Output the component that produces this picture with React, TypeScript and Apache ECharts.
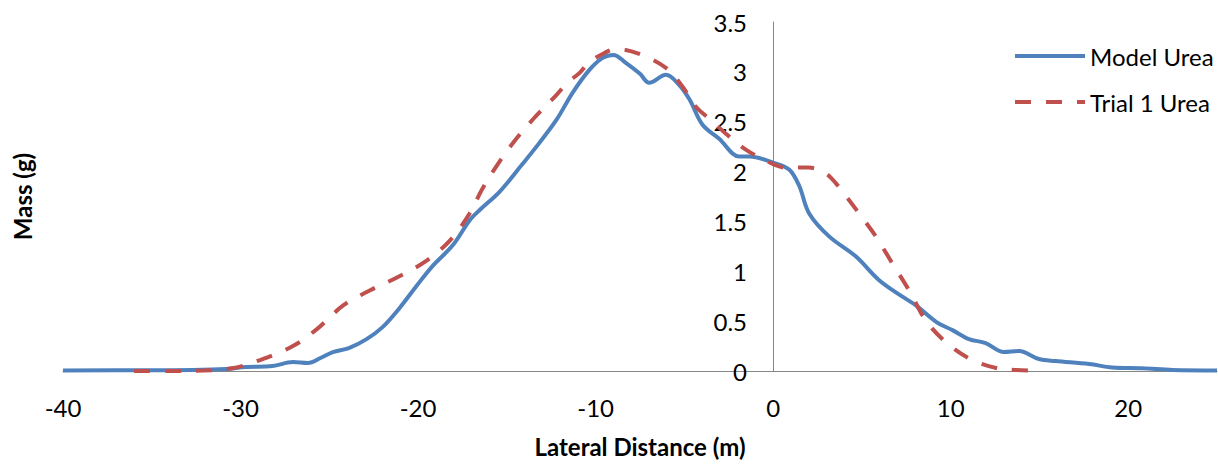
import React, { useEffect, useRef } from "react";
import * as echarts from "echarts";

const modelX = [-40, -35, -32.7, -30.8, -29.7, -28.2, -27.05, -26.2, -25.5, -24.8, -23.9, -22.9, -22.0, -21.05, -20.1, -19.2, -18.05, -17.1, -16.5, -15.4, -14.1, -13.2, -12.2, -11.3, -10.35, -9.6, -9.0, -8.3, -7.5, -6.98, -6.04, -5.3, -4.7, -3.98, -3.04, -1.91, -1.35, 0, 0.9, 1.46, 2.03, 3.15, 4.65, 5.97, 7.28, 8.03, 9.2, 10.1, 11.03, 11.97, 13.0, 13.84, 14.97, 15.9, 17.8, 19.1, 20.8, 22.5, 25];
const modelY = [0.005, 0.008, 0.01, 0.02, 0.04, 0.05, 0.09, 0.08, 0.13, 0.19, 0.23, 0.32, 0.44, 0.63, 0.85, 1.05, 1.26, 1.51, 1.62, 1.8, 2.08, 2.28, 2.52, 2.79, 3.02, 3.14, 3.17, 3.09, 2.98, 2.89, 2.97, 2.87, 2.72, 2.47, 2.33, 2.15, 2.15, 2.09, 2.02, 1.86, 1.58, 1.35, 1.15, 0.91, 0.745, 0.66, 0.49, 0.41, 0.32, 0.28, 0.19, 0.2, 0.12, 0.1, 0.07, 0.035, 0.027, 0.01, 0.005];

const trialX = [-36, -34, -32.1, -30.4, -28.9, -27.05, -25.7, -24.2, -22.7, -21.05, -19.5, -18.2, -17.1, -16.4, -15.6, -14.6, -13.5, -12.2, -11.6, -10.9, -10.4, -9.5, -8.85, -7.54, -6.04, -5.1, -4.35, -3.6, -2.66, -1.54, -0.41, 0.71, 2.0, 2.8, 3.3, 3.9, 4.84, 5.78, 6.71, 7.65, 8.59, 9.72, 11.1, 12.5, 13.3, 15];
const trialY = [0, 0, 0.005, 0.03, 0.11, 0.25, 0.42, 0.66, 0.81, 0.95, 1.11, 1.31, 1.58, 1.82, 2.05, 2.3, 2.53, 2.77, 2.89, 2.99, 3.09, 3.19, 3.23, 3.18, 3.04, 2.85, 2.65, 2.53, 2.38, 2.22, 2.11, 2.04, 2.04, 2.0, 1.93, 1.8, 1.58, 1.35, 1.08, 0.81, 0.51, 0.29, 0.12, 0.033, 0.015, 0];

const seriesNames = ["Model Urea", "Trial 1 Urea"];
const xTitle = "Lateral Distance (m)";
const yTitle = "Mass (g)";

const FONT = "Lato, 'Open Sans', sans-serif";

export default function App() {
  const ref = useRef<HTMLDivElement>(null);
  useEffect(() => {
    document.body.style.margin = "0";
    if (!ref.current) return;
    const chart = echarts.init(ref.current, undefined, { renderer: "svg" });
    const modelData = modelX.map((x, i) => [x, modelY[i]]);
    const trialData = trialX.map((x, i) => [x, trialY[i]]);
    chart.setOption({
      animation: false,
      backgroundColor: "#ffffff",
      textStyle: { fontFamily: FONT, color: "#000" },
      grid: { left: 63, right: 1, top: 22, bottom: 93, containLabel: false, outerBoundsMode: "none" },
      legend: {
        orient: "vertical",
        left: 1008,
        top: 39,
        itemWidth: 70,
        itemHeight: 24,
        itemGap: 22,
        data: seriesNames,
        itemStyle: { color: "transparent", borderColor: "transparent", borderWidth: 0, opacity: 0 },
        lineStyle: { width: 4 },
        textStyle: { fontFamily: FONT, fontSize: 24, color: "#000", lineHeight: 24 },
      },
      xAxis: {
        type: "value",
        min: -40,
        max: 25,
        interval: 10,
        name: xTitle,
        nameLocation: "middle",
        nameGap: 63,
        nameTextStyle: { fontFamily: FONT, fontSize: 24, fontWeight: "bold", color: "#000" },
        axisLine: { show: true, onZero: true, lineStyle: { color: "#868686", width: 1 } },
        axisTick: { show: false },
        splitLine: { show: false },
        axisLabel: {
          margin: 24,
          fontFamily: FONT,
          fontSize: 24,
          color: "#000",
          formatter: (v: number) => (v > 20 ? "" : String(v)),
        },
      },
      yAxis: {
        type: "value",
        min: 0,
        max: 3.5,
        interval: 0.5,
        offset: -710,
        name: yTitle,
        nameLocation: "middle",
        nameGap: 739,
        nameRotate: 90,
        nameTextStyle: { fontFamily: FONT, fontSize: 24, fontWeight: "bold", color: "#000" },
        axisLine: { show: true, onZero: false, lineStyle: { color: "#868686", width: 1 } },
        axisTick: { show: false },
        splitLine: { show: false },
        axisLabel: { margin: 26, fontFamily: FONT, fontSize: 24, color: "#000" },
      },
      series: [
        {
          name: seriesNames[0],
          type: "line",
          data: modelData,
          smooth: 0.35,
          symbol: "none",
          lineStyle: { color: "#4F81BD", width: 4 },
          itemStyle: { color: "#4F81BD" },
        },
        {
          name: seriesNames[1],
          type: "line",
          data: trialData,
          smooth: 0.35,
          symbol: "none",
          lineStyle: { color: "#C0504D", width: 4, type: [16, 15] },
          itemStyle: { color: "#C0504D" },
        },
      ],
    });
    return () => chart.dispose();
  }, []);
  return <div ref={ref} style={{ width: 1218, height: 464 }} />;
}
